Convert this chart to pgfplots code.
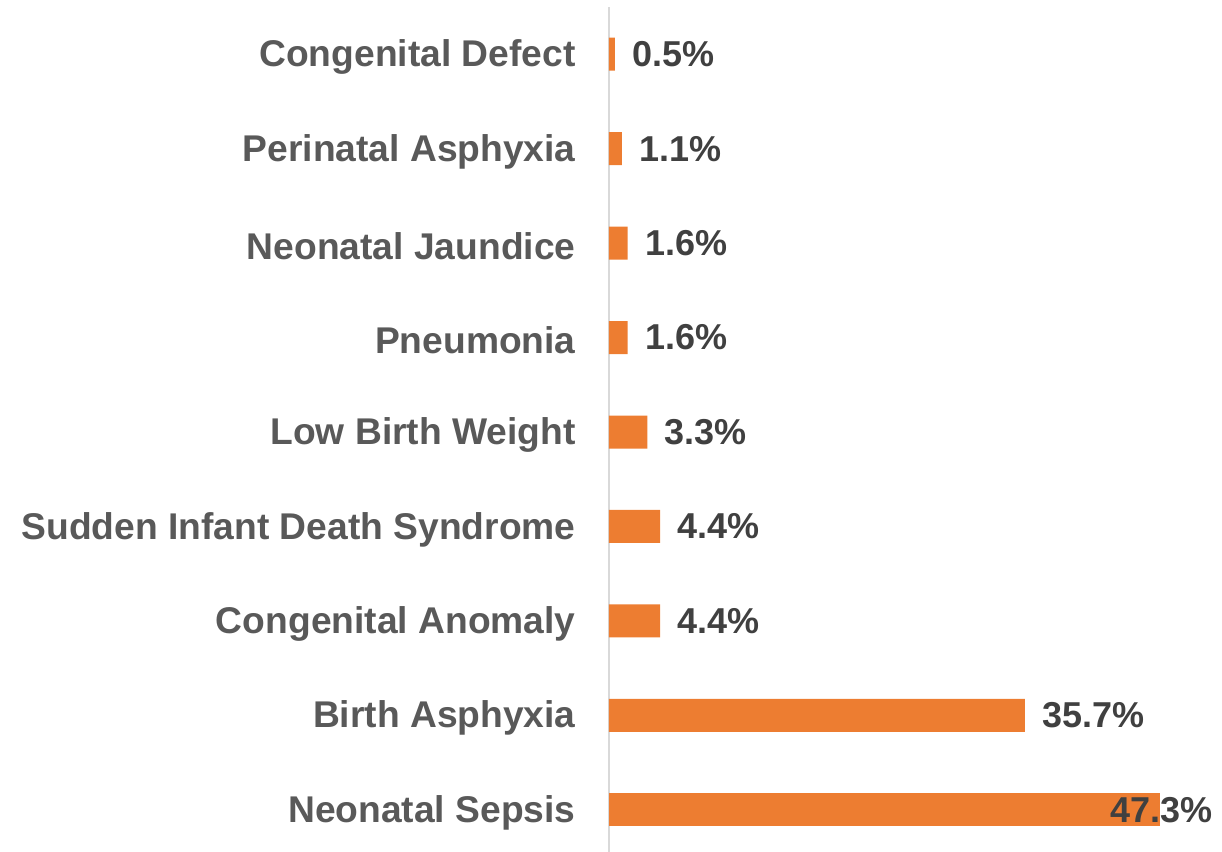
\documentclass[border=0pt]{standalone}
\usepackage{fontspec}
\setmainfont{Liberation Sans}
\usepackage{pgfplots}
\pgfplotsset{compat=1.18}
\definecolor{barc}{HTML}{ED7D31}
\definecolor{catc}{HTML}{595959}
\definecolor{valc}{HTML}{404040}
\definecolor{axc}{HTML}{D9D9D9}
\begin{document}
\begin{tikzpicture}
\useasboundingbox (-304.5pt,2.5pt) rectangle (306.5pt,428.5pt);
\begin{axis}[
  at={(0,0)}, anchor=south west,
  scale only axis,
  width=291.25pt, height=425pt,
  xbar, bar width=16.5pt, bar shift=0pt,
  xmin=0, xmax=50,
  ymin=-0.5, ymax=8.5,
  axis x line=none,
  axis y line=left,
  y axis line style={-, draw=axc, line width=1pt},
  ytick={0,1,2,3,4,5,6,7,8},
  yticklabels={Neonatal Sepsis, Birth Asphyxia, Congenital Anomaly, Sudden Infant Death Syndrome, Low Birth Weight, Pneumonia, Neonatal Jaundice, Perinatal Asphyxia, Congenital Defect},
  major tick length=0pt,
  yticklabel style={anchor=east, inner sep=0pt, xshift=-16.5pt, yshift=-1.5pt, font=\fontsize{18.6}{21}\selectfont\bfseries, text=catc},
  clip=false,
  point meta=x,
  nodes near coords={\pgfmathprintnumber[fixed,precision=1,fixed zerofill,assume math mode=true]{\pgfplotspointmeta}\%},
  every node near coord/.append style={inner sep=0pt, font=\fontsize{18}{21}\selectfont\bfseries, text=valc},
]
\addplot[fill=barc, draw=none,
  every node near coord/.append style={anchor=west, xshift=8.5pt},
] coordinates {(35.7,1) (4.4,2) (4.4,3) (3.3,4) (1.6,5) (1.6,6) (1.1,7) (0.5,8)};
\addplot[fill=barc, draw=none,
  every node near coord/.append style={anchor=east, xshift=26.5pt},
] coordinates {(47.3,0)};
\end{axis}
\end{tikzpicture}
\end{document}
